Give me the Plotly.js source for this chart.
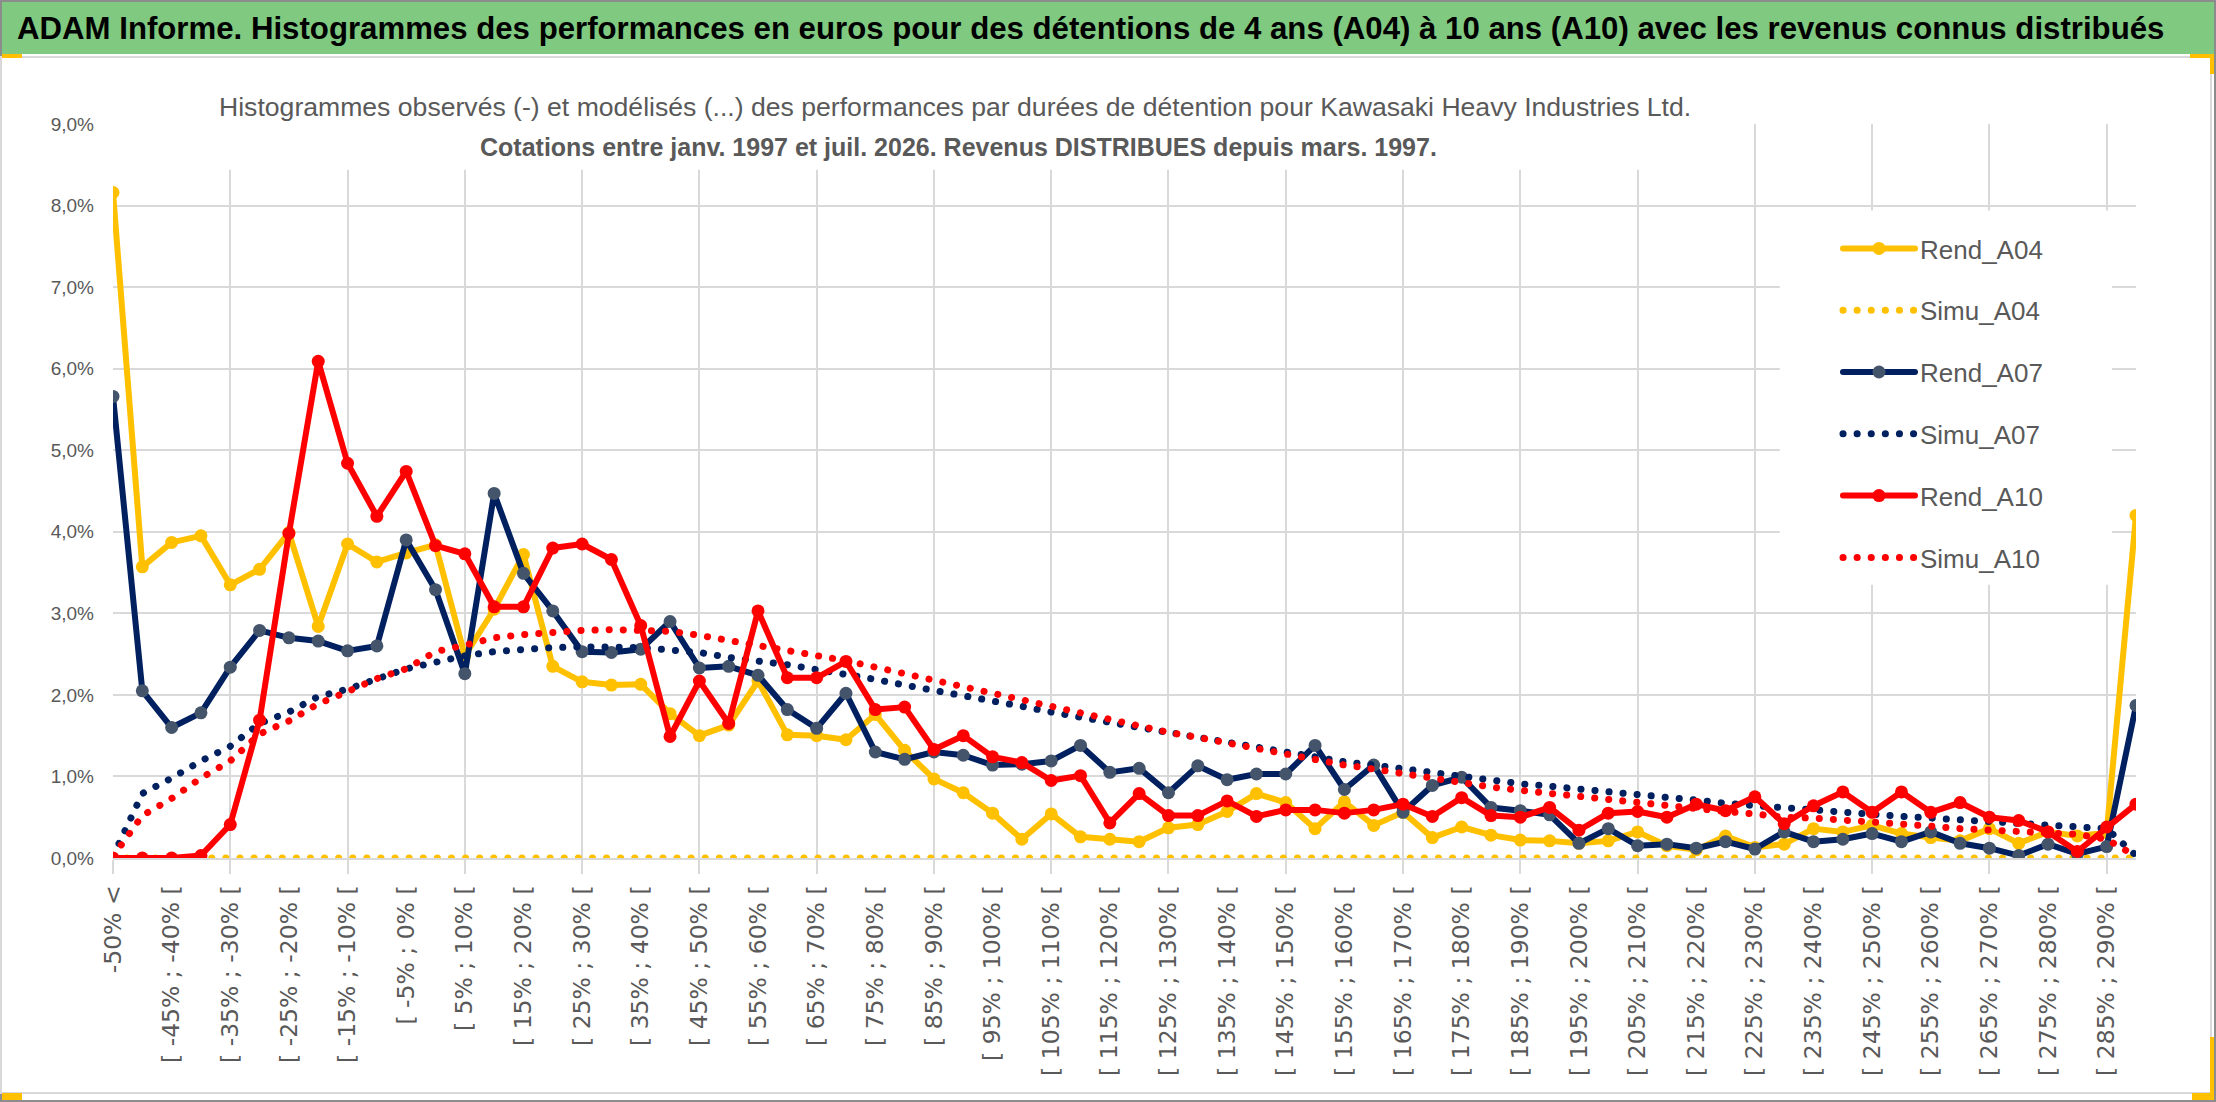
<!DOCTYPE html>
<html>
<head>
<meta charset="utf-8">
<script src="https://cdn.plot.ly/plotly-3.0.1.min.js"></script>
<style>
  body { margin: 0; background: #fff; }
  #chart { width: 2216px; height: 1102px; }
  .js-line { stroke-linecap: round; stroke-linejoin: round; }
</style>
</head>
<body>
<div id="chart"></div>
<script>
// classes de performance (70 classes de 5 %)
var categories = [
  "-50% <", "[ -50% ; -45% [", "[ -45% ; -40% [", "[ -40% ; -35% [", "[ -35% ; -30% [",
  "[ -30% ; -25% [", "[ -25% ; -20% [", "[ -20% ; -15% [", "[ -15% ; -10% [", "[ -10% ; -5% [",
  "[ -5% ; 0% [", "[ 0% ; 5% [", "[ 5% ; 10% [", "[ 10% ; 15% [", "[ 15% ; 20% [",
  "[ 20% ; 25% [", "[ 25% ; 30% [", "[ 30% ; 35% [", "[ 35% ; 40% [", "[ 40% ; 45% [",
  "[ 45% ; 50% [", "[ 50% ; 55% [", "[ 55% ; 60% [", "[ 60% ; 65% [", "[ 65% ; 70% [",
  "[ 70% ; 75% [", "[ 75% ; 80% [", "[ 80% ; 85% [", "[ 85% ; 90% [", "[ 90% ; 95% [",
  "[ 95% ; 100% [", "[ 100% ; 105% [", "[ 105% ; 110% [", "[ 110% ; 115% [", "[ 115% ; 120% [",
  "[ 120% ; 125% [", "[ 125% ; 130% [", "[ 130% ; 135% [", "[ 135% ; 140% [", "[ 140% ; 145% [",
  "[ 145% ; 150% [", "[ 150% ; 155% [", "[ 155% ; 160% [", "[ 160% ; 165% [", "[ 165% ; 170% [",
  "[ 170% ; 175% [", "[ 175% ; 180% [", "[ 180% ; 185% [", "[ 185% ; 190% [", "[ 190% ; 195% [",
  "[ 195% ; 200% [", "[ 200% ; 205% [", "[ 205% ; 210% [", "[ 210% ; 215% [", "[ 215% ; 220% [",
  "[ 220% ; 225% [", "[ 225% ; 230% [", "[ 230% ; 235% [", "[ 235% ; 240% [", "[ 240% ; 245% [",
  "[ 245% ; 250% [", "[ 250% ; 255% [", "[ 255% ; 260% [", "[ 260% ; 265% [", "[ 265% ; 270% [",
  "[ 270% ; 275% [", "[ 275% ; 280% [", "[ 280% ; 285% [", "[ 285% ; 290% [", "> 290%"
];

// fréquences en %
var rendA04 = [8.16, 3.57, 3.87, 3.95, 3.35, 3.54, 3.99, 2.84, 3.85, 3.63,
  3.74, 3.84, 2.48, 3.05, 3.72, 2.35, 2.16, 2.12, 2.13, 1.77,
  1.50, 1.63, 2.17, 1.51, 1.50, 1.45, 1.76, 1.32, 0.97, 0.80,
  0.55, 0.23, 0.54, 0.26, 0.23, 0.20, 0.37, 0.41, 0.57, 0.79,
  0.68, 0.36, 0.69, 0.40, 0.56, 0.25, 0.38, 0.28, 0.22, 0.21,
  0.18, 0.21, 0.32, 0.15, 0.10, 0.27, 0.13, 0.17, 0.36, 0.32,
  0.40, 0.30, 0.25, 0.21, 0.36, 0.18, 0.32, 0.27, 0.31, 4.20];

var simuA04 = [0, 0, 0, 0, 0, 0, 0, 0, 0, 0,
  0, 0, 0, 0, 0, 0, 0, 0, 0, 0,
  0, 0, 0, 0, 0, 0, 0, 0, 0, 0,
  0, 0, 0, 0, 0, 0, 0, 0, 0, 0,
  0, 0, 0, 0, 0, 0, 0, 0, 0, 0,
  0, 0, 0, 0, 0, 0, 0, 0, 0, 0,
  0, 0, 0, 0, 0, 0, 0, 0, 0, 0];

var rendA07 = [5.66, 2.05, 1.60, 1.78, 2.34, 2.79, 2.70, 2.66, 2.54, 2.60,
  3.90, 3.29, 2.26, 4.47, 3.49, 3.03, 2.53, 2.52, 2.56, 2.90,
  2.33, 2.35, 2.24, 1.82, 1.59, 2.02, 1.30, 1.21, 1.30, 1.26,
  1.14, 1.15, 1.19, 1.38, 1.05, 1.10, 0.80, 1.13, 0.96, 1.03,
  1.03, 1.38, 0.84, 1.14, 0.56, 0.89, 0.99, 0.62, 0.58, 0.53,
  0.18, 0.36, 0.15, 0.17, 0.12, 0.20, 0.11, 0.32, 0.20, 0.23,
  0.30, 0.20, 0.32, 0.18, 0.12, 0.03, 0.17, 0.05, 0.14, 1.87];

var simuA07 = [0.02, 0.79, 0.98, 1.19, 1.37, 1.65, 1.79, 1.98, 2.07, 2.20,
  2.32, 2.40, 2.48, 2.53, 2.56, 2.58, 2.59, 2.59, 2.58, 2.55,
  2.52, 2.46, 2.42, 2.37, 2.31, 2.26, 2.19, 2.12, 2.06, 2.00,
  1.94, 1.86, 1.79, 1.72, 1.67, 1.60, 1.54, 1.48, 1.41, 1.35,
  1.30, 1.25, 1.18, 1.14, 1.09, 1.04, 0.99, 0.95, 0.91, 0.88,
  0.85, 0.82, 0.79, 0.75, 0.71, 0.67, 0.64, 0.61, 0.58, 0.55,
  0.53, 0.51, 0.49, 0.47, 0.44, 0.42, 0.40, 0.39, 0.36, 0.03];

var rendA10 = [0, 0, 0, 0.03, 0.41, 1.69, 3.98, 6.09, 4.84, 4.19,
  4.74, 3.83, 3.73, 3.08, 3.08, 3.80, 3.85, 3.66, 2.85, 1.49,
  2.17, 1.65, 3.03, 2.21, 2.21, 2.41, 1.82, 1.85, 1.33, 1.50,
  1.24, 1.17, 0.95, 1.01, 0.43, 0.79, 0.52, 0.52, 0.70, 0.51,
  0.59, 0.59, 0.55, 0.59, 0.66, 0.51, 0.74, 0.52, 0.50, 0.62,
  0.34, 0.55, 0.57, 0.50, 0.66, 0.58, 0.75, 0.42, 0.64, 0.81,
  0.56, 0.81, 0.56, 0.68, 0.50, 0.46, 0.32, 0.08, 0.38, 0.66];

var simuA10 = [0.02, 0.52, 0.73, 0.98, 1.19, 1.52, 1.68, 1.89, 2.04, 2.20,
  2.32, 2.53, 2.61, 2.70, 2.74, 2.77, 2.79, 2.80, 2.80, 2.78,
  2.73, 2.67, 2.62, 2.55, 2.50, 2.42, 2.34, 2.26, 2.17, 2.08,
  2.00, 1.92, 1.84, 1.76, 1.68, 1.60, 1.54, 1.48, 1.41, 1.33,
  1.27, 1.20, 1.14, 1.09, 1.03, 0.98, 0.92, 0.87, 0.83, 0.79,
  0.75, 0.72, 0.68, 0.65, 0.61, 0.57, 0.54, 0.50, 0.49, 0.47,
  0.44, 0.41, 0.39, 0.36, 0.34, 0.32, 0.31, 0.29, 0.23, 0.02];

var W = 2216, H = 1102;
var mg = {l: 113, r: 80, t: 124, b: 244};
// conversion pixels -> coordonnées papier
function px(x) { return (x - mg.l) / (W - mg.l - mg.r); }
function py(y) { return (H - mg.b - y) / (H - mg.t - mg.b); }

var idx = categories.map(function (c, i) { return i; });
var labelVals = idx.filter(function (i) { return i % 2 === 0; });
var labelText = labelVals.map(function (i) { return categories[i]; });
var gridVals = idx.filter(function (i) { return i % 4 === 0; });

var sans = '"Liberation Sans", Arial, sans-serif';
var grey = '#595959';

function rend(name, y, color, mcolor) {
  return {
    x: idx, y: y, name: name, legendgroup: name,
    type: 'scatter', mode: 'lines+markers',
    line: {color: color, width: 6},
    marker: {color: mcolor, size: 13},
    text: categories, hovertemplate: '%{text}: %{y:.2f}%<extra>' + name + '</extra>'
  };
}
function simu(name, y, color) {
  return {
    x: idx, y: y, name: name, legendgroup: name,
    type: 'scatter', mode: 'lines',
    line: {color: color, width: 7, dash: '0.1px,14px'},
    text: categories, hovertemplate: '%{text}: %{y:.2f}%<extra>' + name + '</extra>'
  };
}

var data = [
  rend('Rend_A04', rendA04, '#ffc000', '#ffc000'),
  simu('Simu_A04', simuA04, '#ffc000'),
  rend('Rend_A07', rendA07, '#002060', '#44546a'),
  simu('Simu_A07', simuA07, '#002060'),
  rend('Rend_A10', rendA10, '#ff0000', '#ff0000'),
  simu('Simu_A10', simuA10, '#ff0000')
];

var orange = '#ffc000';
var shapes = [
  // cadre général
  {type: 'rect', xref: 'paper', yref: 'paper', x0: px(1), x1: px(2215), y0: py(1101), y1: py(1),
   line: {color: '#8c8c8c', width: 2}, fillcolor: 'rgba(0,0,0,0)', layer: 'below'},
  // bandeau vert
  {type: 'rect', xref: 'paper', yref: 'paper', x0: px(2), x1: px(2214), y0: py(54), y1: py(2),
   line: {width: 0}, fillcolor: '#80c980', layer: 'below'},
  // cadre du graphique
  {type: 'rect', xref: 'paper', yref: 'paper', x0: px(1), x1: px(2211), y0: py(1093), y1: py(57),
   line: {color: '#d9d9d9', width: 2}, fillcolor: 'rgba(0,0,0,0)', layer: 'below'},
  // poignées de sélection
  {type: 'rect', xref: 'paper', yref: 'paper', x0: px(2), x1: px(22), y0: py(58), y1: py(54),
   line: {width: 0}, fillcolor: orange},
  {type: 'rect', xref: 'paper', yref: 'paper', x0: px(2190), x1: px(2214), y0: py(58), y1: py(54),
   line: {width: 0}, fillcolor: orange},
  {type: 'rect', xref: 'paper', yref: 'paper', x0: px(2210), x1: px(2214), y0: py(74), y1: py(54),
   line: {width: 0}, fillcolor: orange},
  {type: 'rect', xref: 'paper', yref: 'paper', x0: px(2), x1: px(22), y0: py(1100), y1: py(1093),
   line: {width: 0}, fillcolor: orange},
  {type: 'rect', xref: 'paper', yref: 'paper', x0: px(2192), x1: px(2214), y0: py(1100), y1: py(1093),
   line: {width: 0}, fillcolor: orange},
  {type: 'rect', xref: 'paper', yref: 'paper', x0: px(2210), x1: px(2214), y0: py(1100), y1: py(1037),
   line: {width: 0}, fillcolor: orange},
  // fond blanc du titre et de la légende (masque le quadrillage)
  {type: 'rect', xref: 'x', yref: 'y', x0: 3.38, x1: 54.2, y0: 8.44, y1: 9,
   line: {width: 0}, fillcolor: '#ffffff', layer: 'between'},
  {type: 'rect', xref: 'paper', yref: 'paper', x0: px(212), x1: px(1702), y0: py(128), y1: py(119),
   line: {width: 0}, fillcolor: '#ffffff', layer: 'above'},
  {type: 'rect', xref: 'x', yref: 'y', x0: 56.85, x1: 68.18, y0: 3.35, y1: 7.94,
   line: {width: 0}, fillcolor: '#ffffff', layer: 'between'}
];

var layout = {
  width: W, height: H,
  margin: mg,
  paper_bgcolor: '#ffffff', plot_bgcolor: '#ffffff',
  separators: ', ',
  font: {family: sans, color: grey},
  title: {
    text: '<b>ADAM Informe. Histogrammes des performances en euros pour des détentions de 4 ans (A04) à 10 ans (A10) avec les revenus connus distribués</b>',
    font: {family: sans, size: 31.2, color: '#000000'},
    xref: 'container', yref: 'container', x: 17 / W, xanchor: 'left', y: 1 - 28 / H, yanchor: 'middle'
  },
  annotations: [
    {text: 'Histogrammes observés (-) et modélisés (...) des performances par durées de détention pour Kawasaki Heavy Industries Ltd.',
     xref: 'paper', yref: 'paper', x: px(955), y: py(107), xanchor: 'center', yanchor: 'middle',
     showarrow: false, font: {family: sans, size: 26.6, color: grey}},
    {text: '<b>Cotations entre janv. 1997 et juil. 2026. Revenus DISTRIBUES depuis mars. 1997.</b>',
     xref: 'paper', yref: 'paper', x: px(958), y: py(147), xanchor: 'center', yanchor: 'middle',
     showarrow: false, font: {family: sans, size: 25, color: grey}}
  ],
  shapes: shapes,
  showlegend: true,
  legend: {
    x: px(1838), y: py(225), xanchor: 'left', yanchor: 'top',
    bgcolor: 'rgba(0,0,0,0)', borderwidth: 0,
    font: {family: sans, size: 26, color: grey},
    tracegroupgap: 25, itemwidth: 72
  },
  xaxis: {
    type: 'linear', range: [0, 69], fixedrange: true,
    tickmode: 'array', tickvals: labelVals, ticktext: labelText,
    tickangle: -90, ticks: '', showgrid: false, zeroline: false,
    tickfont: {family: '"DejaVu Sans", sans-serif', size: 23.5, color: grey},
    ticklabelstandoff: 16,
    showline: true, linecolor: '#d9d9d9', linewidth: 2,
    minor: {tickmode: 'array', tickvals: gridVals, showgrid: true, gridcolor: '#d9d9d9', gridwidth: 2,
            ticks: 'outside', ticklen: 14, tickcolor: '#d9d9d9', tickwidth: 2}
  },
  yaxis: {
    range: [0, 9], dtick: 1, tick0: 0, fixedrange: true,
    tickformat: '.1f', ticksuffix: '%',
    showgrid: true, gridcolor: '#d9d9d9', gridwidth: 2, zeroline: false,
    ticks: '', ticklabelstandoff: 18,
    tickfont: {family: sans, size: 19, color: grey}
  }
};

Plotly.newPlot('chart', data, layout, {displayModeBar: false, responsive: false});
</script>
</body>
</html>
